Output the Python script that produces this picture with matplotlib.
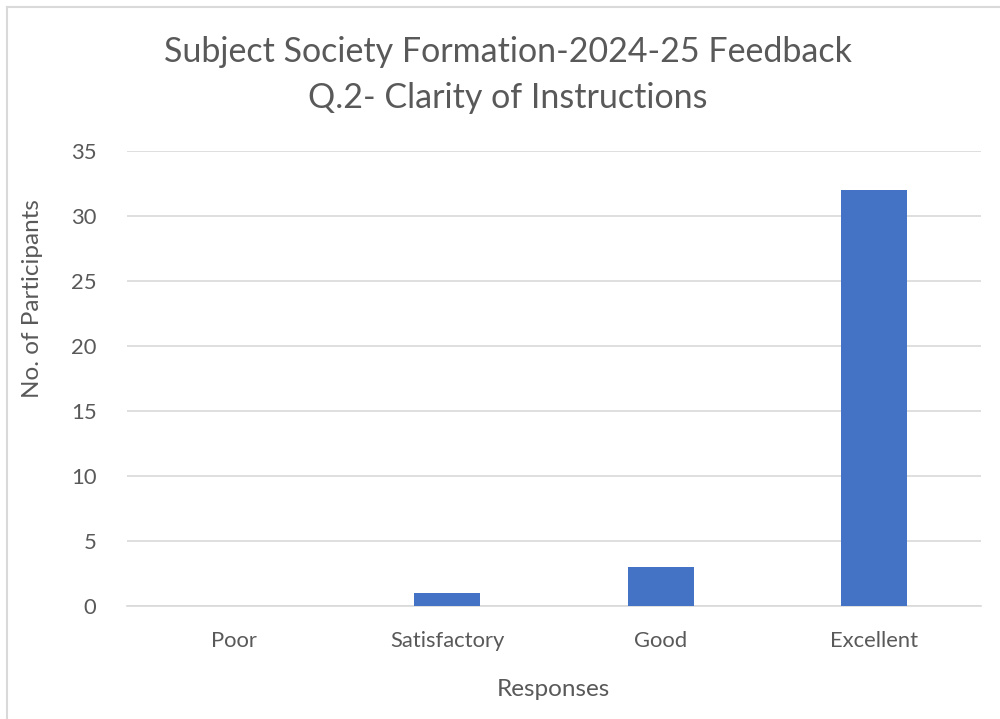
import matplotlib.pyplot as plt
from matplotlib.lines import Line2D

categories = ["Poor", "Satisfactory", "Good", "Excellent"]
counts = [0, 1, 3, 32]
y_ticks = [0, 5, 10, 15, 20, 25, 30, 35]

text_colour = "#595959"
bar_colour = "#4472C4"
grid_colour = "#D9D9D9"

plt.rcParams["font.family"] = ["Lato", "DejaVu Sans"]

fig = plt.figure(figsize=(10, 7.19), dpi=100)
ax = fig.add_axes([0.127, 1 - 606 / 719, 0.854, (606 - 151) / 719])

x = range(len(categories))
ax.bar(x, counts, width=0.31, color=bar_colour, zorder=3)

ax.set_xlim(-0.5, len(categories) - 0.5)
ax.set_ylim(0, 35)
ax.set_yticks(y_ticks)
ax.set_xticks(list(x))
ax.set_xticklabels(categories)
ax.yaxis.grid(True, color=grid_colour, linewidth=1.2, zorder=0)
ax.tick_params(axis="both", length=0, labelsize=15.8, colors=text_colour)
ax.tick_params(axis="y", pad=22)
ax.tick_params(axis="x", pad=18)
for s in ["top", "right", "left"]:
    ax.spines[s].set_visible(False)
ax.spines["bottom"].set_color(grid_colour)
ax.spines["bottom"].set_linewidth(1.2)

ax.set_xlabel("Responses", fontsize=17.5, color=text_colour)
ax.xaxis.set_label_coords(0.499, (606 - 689) / 455)
ax.xaxis.label.set_va("center")
ax.set_ylabel("No. of Participants", fontsize=17.5, color=text_colour)
ax.yaxis.set_label_coords((33 - 127) / 854, (606 - 299) / 455)
ax.yaxis.label.set_va("center")

fig.text(0.508, 1 - 52 / 719, "Subject Society Formation-2024-25 Feedback",
         ha="center", va="center", fontsize=24.5, color=text_colour)
fig.text(0.508, 1 - 98 / 719, "Q.2- Clarity of Instructions",
         ha="center", va="center", fontsize=24.5, color=text_colour)

# chart frame (only left and top edges visible in the crop)
fig.add_artist(Line2D([0.0065, 0.0065], [0, 1 - 7 / 719], transform=fig.transFigure,
                      color="#D9D9D9", linewidth=1.5))
fig.add_artist(Line2D([0.0065, 1], [1 - 7 / 719, 1 - 7 / 719], transform=fig.transFigure,
                      color="#D9D9D9", linewidth=1.5))

fig.savefig("out.png", dpi=100)
